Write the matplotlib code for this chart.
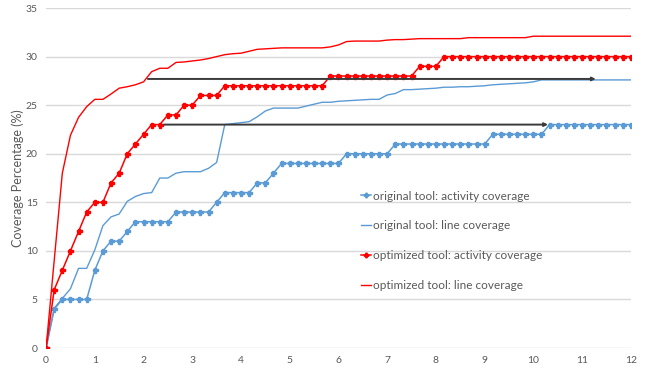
import matplotlib.pyplot as plt
import numpy as np

plt.rcParams['font.family'] = ['Lato', 'DejaVu Sans']

# samples every 10 minutes over 12 hours
hours = np.arange(73) / 6

orig_activity = ([0, 4] + [5] * 4 + [8, 10, 11, 11, 12] + [13] * 5 + [14] * 5
                 + [15] + [16] * 4 + [17] * 2 + [18] + [19] * 8 + [20] * 6
                 + [21] * 12 + [22] * 7 + [23] * 11)

orig_line = [0, 4.1, 5.1, 6.1, 8.2, 8.2, 10.1, 12.6, 13.5, 13.8, 15.1, 15.6,
             15.9, 16.0, 17.5, 17.5, 18.0, 18.15, 18.15, 18.15, 18.5, 19.1,
             23.0, 23.1, 23.2, 23.3, 23.8, 24.4, 24.7, 24.7, 24.7, 24.7, 24.9,
             25.1, 25.3, 25.3, 25.4, 25.45, 25.5, 25.55, 25.6, 25.6, 26.05,
             26.2, 26.6, 26.6, 26.65, 26.7, 26.75, 26.85, 26.85, 26.9, 26.9,
             26.95, 27.0, 27.1, 27.15, 27.2, 27.25, 27.3, 27.4] + [27.6] * 12

opt_activity = ([0, 6, 8, 10, 12, 14, 15, 15, 17, 18, 20, 21, 22, 23, 23, 24, 24,
                 25, 25, 26, 26, 26] + [27] * 13 + [28] * 11 + [29] * 3
                + [30] * 24)

opt_line = [0, 9, 18.0, 21.9, 23.75, 24.85, 25.6, 25.6, 26.15, 26.75, 26.9,
            27.1, 27.4, 28.45, 28.8, 28.8, 29.4, 29.45, 29.55, 29.65, 29.8,
            30.0, 30.2, 30.3, 30.35, 30.55, 30.75, 30.8, 30.85, 30.9, 30.9,
            30.9, 30.9, 30.9, 30.9, 31.0, 31.2, 31.55, 31.6, 31.6, 31.6, 31.6,
            31.7, 31.75, 31.75, 31.8] + [31.85] * 6 + [31.95] * 8 + [32.1] * 13

# time to reach the same coverage: (start, end, level)
gaps = [(2.09, 11.28, 27.7), (2.42, 10.3, 23.0)]

blue = '#5B9BD5'
red = '#FF0000'
grey = '#595959'

fig = plt.figure(figsize=(6.49, 3.74), dpi=100)
ax = fig.add_axes([0.071, 0.0695, 0.901, 0.909])

ax.plot(hours, orig_activity, color=blue, lw=1.1, marker='P', ms=3.6,
        label='original tool: activity coverage')
ax.plot(hours, orig_line, color=blue, lw=1.0, label='original tool: line coverage')
ax.plot(hours, opt_activity, color=red, lw=1.1, marker='P', ms=3.6,
        label='optimized tool: activity coverage')
ax.plot(hours, opt_line, color=red, lw=1.0, label='optimized tool: line coverage')

for x0, x1, y in gaps:
    ax.annotate('', xy=(x1, y), xytext=(x0, y),
                arrowprops=dict(arrowstyle='-|>', color='#3a3a3a', lw=1.4,
                                mutation_scale=5, shrinkA=0, shrinkB=0))

ax.set_xlim(0, 12)
ax.set_ylim(0, 35)
ax.set_xticks(range(13))
ax.set_yticks(range(0, 36, 5))
ax.grid(axis='y', color='#d9d9d9', lw=1)
ax.set_axisbelow(True)
for s in ax.spines.values():
    s.set_visible(False)
ax.tick_params(length=0, labelsize=7.5, labelcolor=grey, pad=6)
ax.set_ylabel('Coverage Percentage (%)', fontsize=9, color=grey, labelpad=1)

ax.legend(loc='center left', bbox_to_anchor=(0.52, 0.315), frameon=False,
          fontsize=8.5, labelcolor=grey, handlelength=0.9, handletextpad=0.1,
          labelspacing=1.6, markerscale=0.9)

fig.savefig('out.png', dpi=100)
